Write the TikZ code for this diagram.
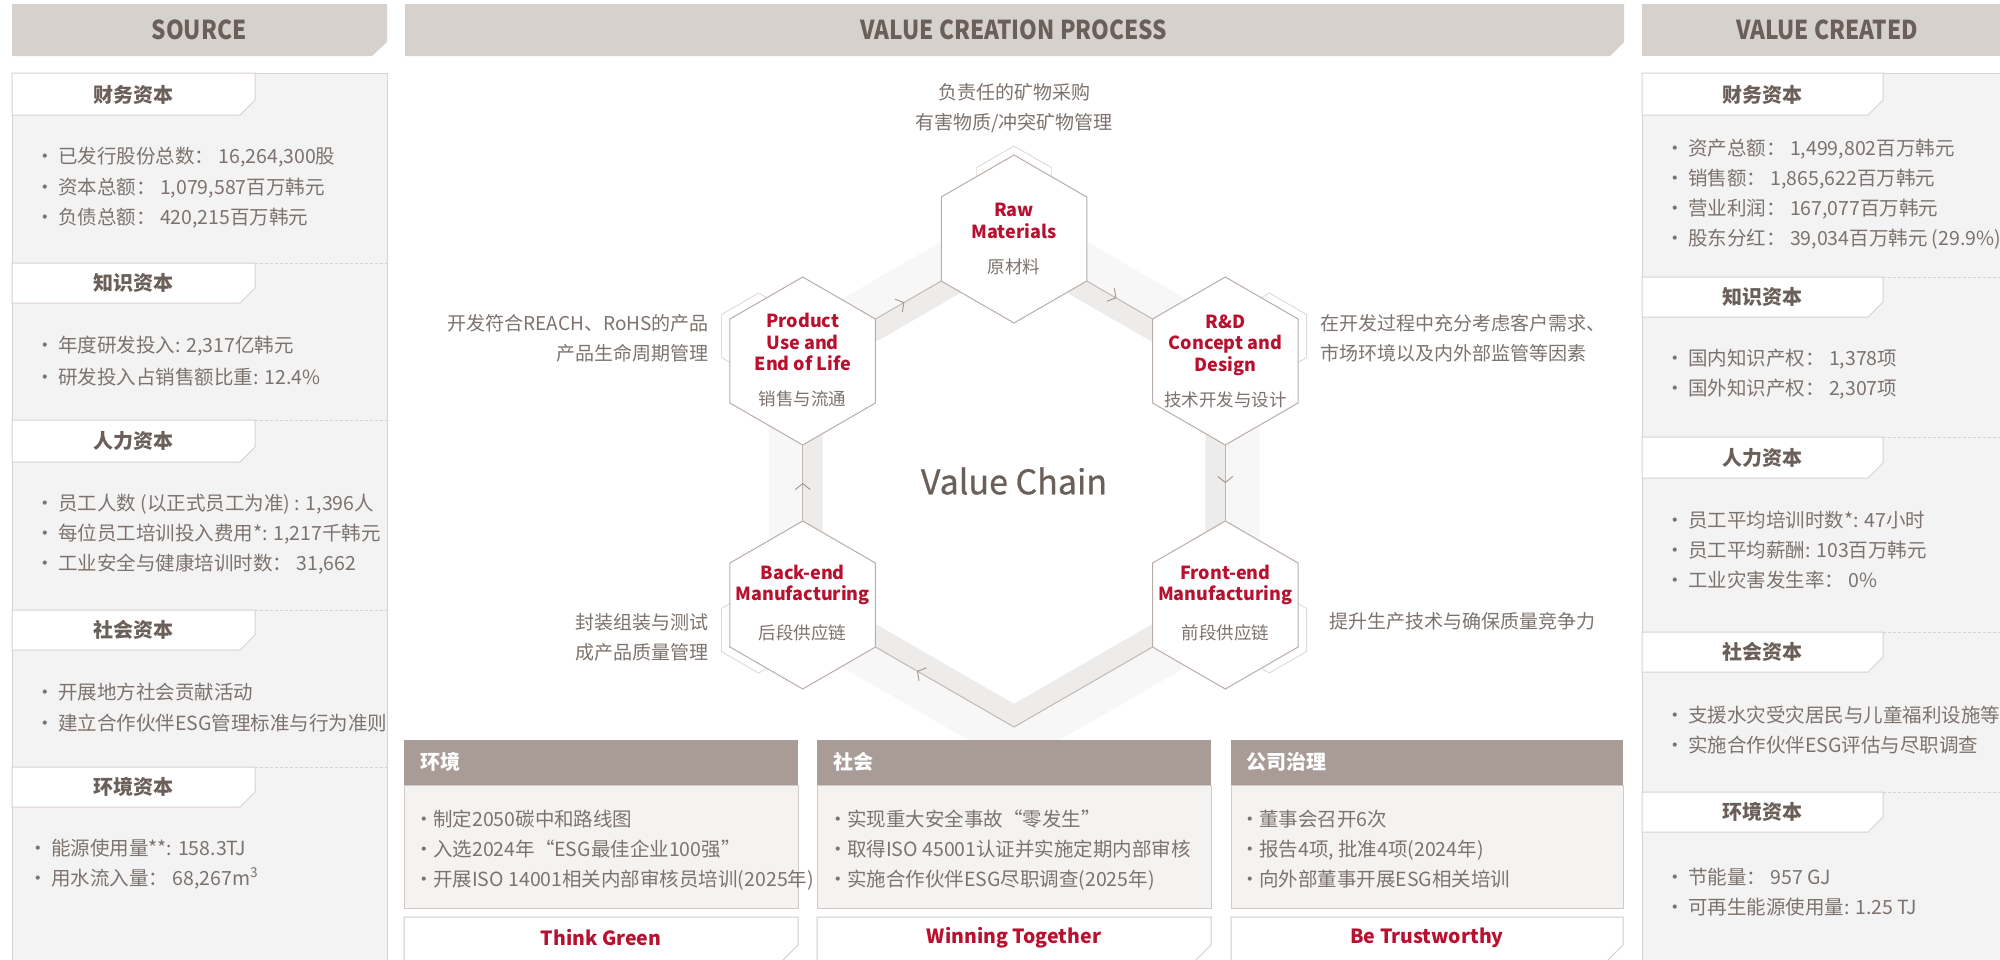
\documentclass[tikz,border=0pt]{standalone}
\usepackage{fontspec}
\usepackage{graphicx}
\setmainfont{Noto Sans CJK SC}
\newfontfamily\medfont[FakeBold=0.6]{Noto Sans CJK SC}
\usetikzlibrary{shapes.geometric,arrows.meta,decorations.markings}
\definecolor{chdr}{HTML}{D7D1CD}
\definecolor{chdrtxt}{HTML}{6B5F59}
\definecolor{cpanel}{HTML}{F3F3F3}
\definecolor{cpline}{HTML}{D9D1CD}
\definecolor{citxt}{HTML}{7D736E}
\definecolor{cdesc}{HTML}{7D736E}
\definecolor{cred}{HTML}{B8102E}
\definecolor{chexl}{HTML}{B9ADA7}
\definecolor{cshad}{HTML}{DEDAD8}
\definecolor{cconn}{HTML}{C2B8B3}
\definecolor{carr}{HTML}{A0958F}
\definecolor{cbandL}{HTML}{F8F7F7}
\definecolor{cbandD}{HTML}{EEECEB}
\definecolor{cesgh}{HTML}{A99C97}
\definecolor{cesgb}{HTML}{F5F3F2}
\definecolor{cesgl}{HTML}{D3CBC7}
\newcommand\fsz[2]{\fontsize{#1}{#2}\selectfont}
\newcommand\itl[4]{\node[itm] (#1) at (#2,#3) {\llap{·\hspace{3pt}}#4};}
\newcommand\ite[4]{\node[itm] (#1) at (#2,#3) {\llap{·\hspace{-1pt}}#4};}
\newcommand\tabshape[4]{\filldraw[fill=white, draw=cpline, line width=1pt] (#1,#2) -- ({#1+#4},#2) -- ({#1+#4},{#3-15}) -- ({#1+#4-15},#3) -- (#1,#3) -- cycle;}
\newcommand\hdrbox[1]{\scalebox{0.87}[1]{#1}}
\begin{document}
\begin{tikzpicture}[x=1pt,y=-1pt,
  hdrtext/.style={font=\fsz{26}{30}\bfseries, text=chdrtxt, inner sep=0},
  tabtext/.style={font=\fsz{20}{24}\bfseries, text=chdrtxt, inner sep=0},
  itm/.style={font=\fsz{19.5}{24}, text=citxt, anchor=base west, inner sep=0},
  desc/.style={font=\fsz{19}{30}, text=cdesc, inner sep=0},
  hexa/.style={regular polygon, regular polygon sides=6, shape border rotate=30, minimum size=168pt, inner sep=0, outer sep=0, draw=chexl, fill=white, line width=1pt},
  hexs/.style={regular polygon, regular polygon sides=6, shape border rotate=30, minimum size=86pt, inner sep=0, outer sep=0, draw=cshad, fill=white, line width=0.9pt},
  redt/.style={font=\fsz{18}{21.5}\bfseries, text=cred, align=center, inner sep=0},
  subt/.style={font=\fsz{17.5}{20}, text=cdesc, inner sep=0},
  connector/.style={draw=cconn, line width=1pt},
  midarr/.style={postaction={decorate}, decoration={markings, mark=at position #1 with {\arrow[carr, line width=0.9pt]{Straight Barb[length=6pt,width=15pt]}}}},
  esghtext/.style={font=\fsz{20}{24}\bfseries, text=white, inner sep=0, anchor=west},
  mottotext/.style={font=\fsz{19.5}{24}\bfseries, text=cred, inner sep=0}
]
\useasboundingbox (0,0) rectangle (2000,959);
\fill[white] (0,0) rectangle (2000,959);

% ---------- headers ----------
\fill[chdr] (12,4) -- (387,4) -- (387,42) -- (372,56) -- (12,56) -- cycle;
\node[hdrtext] (hsrc) at (199,30) {\hdrbox{SOURCE}};
\fill[chdr] (405,4) -- (1624,4) -- (1624,42) -- (1610,56) -- (405,56) -- cycle;
\node[hdrtext] (hproc) at (1014,30) {\hdrbox{VALUE CREATION PROCESS}};
\fill[chdr] (1642,4) -- (2010,4) -- (2010,56) -- (1642,56) -- cycle;
\node[hdrtext] (hcre) at (1827,30) {\hdrbox{VALUE CREATED}};

% ---------- left panel ----------
\filldraw[fill=cpanel, draw=cpline, line width=1pt] (12,73) rectangle (387,975);
\foreach \yy in {263,420,610,767}
  \draw[cpline, line width=1pt, dash pattern=on 3pt off 2pt] (255,\yy) -- (387,\yy);
\tabshape{12}{73}{115}{243}
\tabshape{12}{263}{303}{243}
\tabshape{12}{420}{462}{243}
\tabshape{12}{610}{650}{243}
\tabshape{12}{767}{807}{243}
\node[tabtext] (lt1) at (133.5,94.5) {财务资本};
\node[tabtext] (lt2) at (133.5,283) {知识资本};
\node[tabtext] (lt3) at (133.5,441) {人力资本};
\node[tabtext] (lt4) at (133.5,630) {社会资本};
\node[tabtext] (lt5) at (133.5,787) {环境资本};
\itl{la1}{58}{163}{已发行股份总数： 16,264,300股}
\itl{la2}{58}{194}{资本总额： 1,079,587百万韩元}
\itl{la3}{58}{224}{负债总额： 420,215百万韩元}
\itl{lb1}{58}{352}{年度研发投入: 2,317亿韩元}
\itl{lb2}{58}{384}{研发投入占销售额比重: 12.4\%}
\itl{lc1}{58}{510}{员工人数 (以正式员工为准) : 1,396人}
\itl{lc2}{58}{540}{每位员工培训投入费用*: 1,217千韩元}
\itl{lc3}{58}{570}{工业安全与健康培训时数： 31,662}
\itl{ld1}{58}{699}{开展地方社会贡献活动}
\itl{ld2}{58}{730}{建立合作伙伴ESG管理标准与行为准则}
\itl{le1}{51}{855}{能源使用量**: 158.3TJ}
\itl{le2}{51}{885}{用水流入量： 68,267m\textsuperscript{3}}

% ---------- right panel ----------
\filldraw[fill=cpanel, draw=cpline, line width=1pt] (1642,73) rectangle (2010,975);
\foreach \yy in {277,437,632,792}
  \draw[cpline, line width=1pt, dash pattern=on 3pt off 2pt] (1883,\yy) -- (2010,\yy);
\tabshape{1642}{73}{115}{241}
\tabshape{1642}{277}{317}{241}
\tabshape{1642}{437}{478}{241}
\tabshape{1642}{632}{672}{241}
\tabshape{1642}{792}{832}{241}
\node[tabtext] (rt1) at (1762.5,94.5) {财务资本};
\node[tabtext] (rt2) at (1762.5,297) {知识资本};
\node[tabtext] (rt3) at (1762.5,457.5) {人力资本};
\node[tabtext] (rt4) at (1762.5,652) {社会资本};
\node[tabtext] (rt5) at (1762.5,812) {环境资本};
\itl{ra1}{1688}{155}{资产总额： 1,499,802百万韩元}
\itl{ra2}{1688}{185}{销售额： 1,865,622百万韩元}
\itl{ra3}{1688}{215}{营业利润： 167,077百万韩元}
\itl{ra4}{1688}{245}{股东分红： 39,034百万韩元 (29.9\%)}
\itl{rb1}{1688}{365}{国内知识产权： 1,378项}
\itl{rb2}{1688}{395}{国外知识产权： 2,307项}
\itl{rc1}{1688}{527}{员工平均培训时数*: 47小时}
\itl{rc2}{1688}{557}{员工平均薪酬: 103百万韩元}
\itl{rc3}{1688}{587}{工业灾害发生率： 0\%}
\itl{rd1}{1688}{722}{支援水灾受灾居民与儿童福利设施等}
\itl{rd2}{1688}{752}{实施合作伙伴ESG评估与尽职调查}
\itl{re1}{1688}{884}{节能量： 957 GJ}
\itl{re2}{1688}{914}{可再生能源使用量: 1.25 TJ}

% ---------- value chain band ----------
\fill[cbandL, even odd rule, shift={(1014,483)}]
  (30:283.3) -- (90:283.3) -- (150:283.3) -- (210:283.3) -- (270:283.3) -- (330:283.3) -- cycle
  (30:244) -- (90:244) -- (150:244) -- (210:244) -- (270:244) -- (330:244) -- cycle;
\fill[cbandD, even odd rule, shift={(1014,483)}]
  (30:244) -- (90:244) -- (150:244) -- (210:244) -- (270:244) -- (330:244) -- cycle
  (30:220.9) -- (90:220.9) -- (150:220.9) -- (210:220.9) -- (270:220.9) -- (330:220.9) -- cycle;

% ---------- shadow hexagons ----------
\node[hexs] (raws) at (1014,189) {};
\node[hexs] (prods) at (758.7,336) {};
\node[hexs] (rnds) at (1269.3,336) {};
\node[hexs] (backs) at (758.7,630) {};
\node[hexs] (fronts) at (1269.3,630) {};

% ---------- main hexagons ----------
\node[hexa] (raw) at (1014,239) {};
\node[hexa] (prod) at (802.7,361) {};
\node[hexa] (rnd) at (1225.3,361) {};
\node[hexa] (back) at (802.7,605) {};
\node[hexa] (front) at (1225.3,605) {};
\coordinate (vbot) at (1014,727);

% connectors
\draw[connector, midarr=0.44] (prod) -- (raw);
\draw[connector, midarr=0.45] (raw) -- (rnd);
\draw[connector, midarr=0.5] (rnd) -- (front);
\draw[connector] (front) -- (vbot);
\draw[connector, midarr=0.7] (vbot) -- (back);
\draw[connector, midarr=0.5] (back) -- (prod);

% hexagon texts
\node[redt] (rawt) at (1014,221) {Raw\\Materials};
\node[subt] (rawc) at (1014,267) {原材料};
\node[redt] (prodt) at (802.7,342) {Product\\Use and\\End of Life};
\node[subt] (prodc) at (802.7,399) {销售与流通};
\node[redt] (rndt) at (1225.3,345) {R\&D\\Concept and\\Design};
\node[subt] (rndc) at (1225.3,400) {技术开发与设计};
\node[redt] (backt) at (802.7,585) {Back-end\\Manufacturing};
\node[subt] (backc) at (802.7,633) {后段供应链};
\node[redt] (frontt) at (1225.3,585) {Front-end\\Manufacturing};
\node[subt] (frontc) at (1225.3,633) {前段供应链};

\node[font=\fsz{34}{40}\medfont, text=chdrtxt, inner sep=0] (vc) at (1014,481) {Value Chain};

% descriptions
\node[desc, align=center] (dtop) at (1014,108) {负责任的矿物采购\\有害物质/冲突矿物管理};
\node[desc, align=right, anchor=east] (dlu) at (709,338.5) {开发符合REACH、RoHS的产品\\产品生命周期管理};
\node[desc, align=left, anchor=west] (dru) at (1320,338.5) {在开发过程中充分考虑客户需求、\\市场环境以及内外部监管等因素};
\node[desc, align=right, anchor=east] (dll) at (709,637) {封装组装与测试\\成产品质量管理};
\node[desc, anchor=west] (drl) at (1329,621) {提升生产技术与确保质量竞争力};

% ---------- ESG boxes ----------
\fill[cesgh] (404,740) rectangle (798,785);
\filldraw[fill=cesgb, draw=cesgl, line width=1pt] (404,785) rectangle (798,908);
\filldraw[fill=white, draw=cesgl, line width=1pt] (404,917) -- (798,917) -- (798,945) -- (770,973) -- (404,973) -- cycle;
\fill[cesgh] (817,740) rectangle (1211,785);
\filldraw[fill=cesgb, draw=cesgl, line width=1pt] (817,785) rectangle (1211,908);
\filldraw[fill=white, draw=cesgl, line width=1pt] (817,917) -- (1211,917) -- (1211,945) -- (1183,973) -- (817,973) -- cycle;
\fill[cesgh] (1231,740) rectangle (1623,785);
\filldraw[fill=cesgb, draw=cesgl, line width=1pt] (1231,785) rectangle (1623,908);
\filldraw[fill=white, draw=cesgl, line width=1pt] (1231,917) -- (1623,917) -- (1623,945) -- (1595,973) -- (1231,973) -- cycle;

\node[esghtext] (eh) at (420,762) {环境};
\node[esghtext] (sh) at (833,762) {社会};
\node[esghtext] (gh) at (1246,762) {公司治理};
\ite{ea}{433}{826}{制定2050碳中和路线图}
\ite{eb}{433}{856}{入选2024年“ESG最佳企业100强”}
\ite{ec}{433}{886}{开展ISO 14001相关内部审核员培训(2025年)}
\ite{sa}{847}{826}{实现重大安全事故“零发生”}
\ite{sb}{847}{856}{取得ISO 45001认证并实施定期内部审核}
\ite{sc}{847}{886}{实施合作伙伴ESG尽职调查(2025年)}
\ite{ga}{1259}{826}{董事会召开6次}
\ite{gb}{1259}{856}{报告4项, 批准4项(2024年)}
\ite{gc}{1259}{886}{向外部董事开展ESG相关培训}
\node[mottotext] (m1) at (601,938) {Think Green};
\node[mottotext] (m2) at (1014,938) {Winning Together};
\node[mottotext] (m3) at (1427,938) {Be Trustworthy};
\end{tikzpicture}
\end{document}
